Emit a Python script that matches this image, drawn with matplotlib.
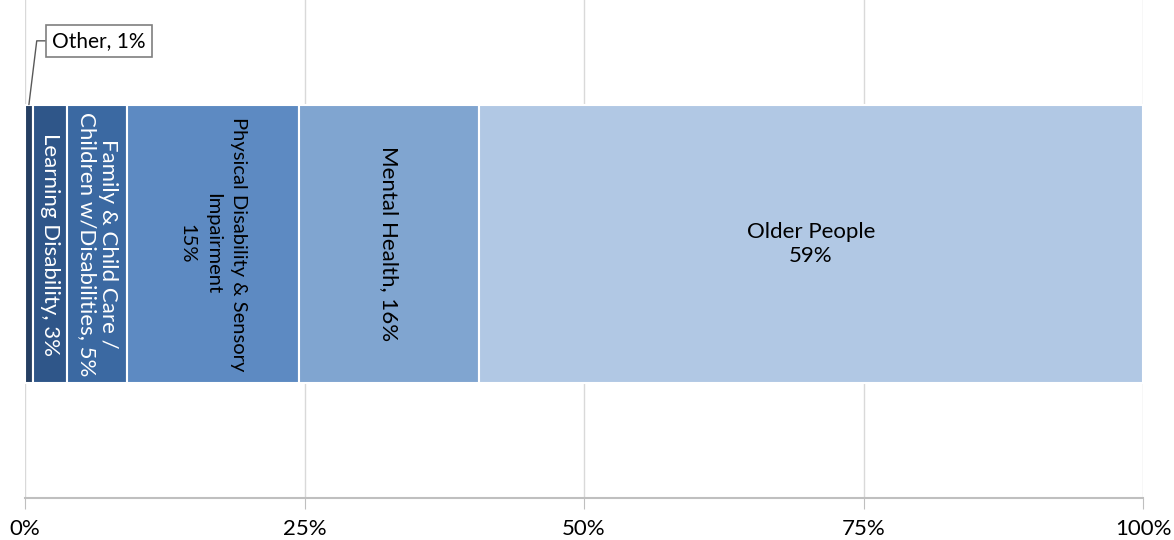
import matplotlib.pyplot as plt
from matplotlib.ticker import PercentFormatter

plt.rcParams['font.family'] = ['Lato', 'DejaVu Sans']

# share of spend per client group (percent)
groups = ["Other", "Learning Disability", "Family & Child Care /\nChildren w/Disabilities",
          "Physical Disability & Sensory\nImpairment", "Mental Health", "Older People"]
shares = [0.7, 3.1, 5.3, 15.4, 16.1, 59.4]
shown = ["1%", "3%", "5%", "15%", "16%", "59%"]
colors = ["#253f63", "#2f5689", "#3b69a2", "#5d8ac2", "#80a5d0", "#b1c8e4"]
ticks = [0, 25, 50, 75, 100]


def main():
    fig = plt.figure(figsize=(11.74, 5.4), dpi=100)
    ax = fig.add_axes([0.0213, 0.0778, 0.9523, 0.9222])

    y, h = 0.51, 0.56
    fs = 16
    left = 0
    for name, val, pct, col in zip(groups, shares, shown, colors):
        ax.barh(y, val, left=left, height=h, color=col, edgecolor="white", linewidth=1.5, zorder=2)
        cx = left + val / 2
        if name == "Other":
            ax.annotate(f"{name}, {pct}", xy=(cx, y + h / 2), xytext=(2.45, 0.918),
                        fontsize=15, va="center", ha="left", color="black",
                        bbox=dict(boxstyle="square,pad=0.3", fc="white", ec="#7f7f7f", lw=1.2),
                        arrowprops=dict(arrowstyle="-", color="#595959", lw=1,
                                        relpos=(0, 0.5), shrinkA=0, shrinkB=0,
                                        connectionstyle="angle,angleA=180,angleB=83,rad=0"))
        elif name == "Older People":
            ax.text(cx, y, f"{name}\n{pct}", ha="center", va="center", fontsize=fs,
                    color="black", linespacing=1.3, zorder=3)
        elif name.startswith("Physical"):
            ax.text(cx, y, f"{name}\n{pct}", ha="center", va="center", fontsize=14.5,
                    color="black", rotation=270, linespacing=1.65, multialignment="center", zorder=3)
        elif name == "Mental Health":
            ax.text(cx, y, f"{name}, {pct}", ha="center", va="center", fontsize=fs,
                    color="black", rotation=270, zorder=3)
        else:
            ax.text(cx, y, f"{name}, {pct}", ha="center", va="center", fontsize=fs,
                    color="white", rotation=270, linespacing=1.05, multialignment="center", zorder=3)
        left += val

    ax.set_xlim(0, 100)
    ax.set_ylim(0, 1)
    ax.set_xticks(ticks)
    ax.xaxis.set_major_formatter(PercentFormatter(decimals=0))
    ax.set_yticks([])
    ax.grid(axis="x", color="#d9d9d9", lw=1, zorder=0)
    for s in ["top", "left", "right"]:
        ax.spines[s].set_visible(False)
    ax.spines["bottom"].set_color("#bfbfbf")
    ax.spines["bottom"].set_linewidth(1.5)
    ax.tick_params(axis="x", length=8, color="#bfbfbf", labelsize=16, pad=7, labelcolor="#000000")

    fig.savefig("out.png", dpi=100)


if __name__ == "__main__":
    main()
